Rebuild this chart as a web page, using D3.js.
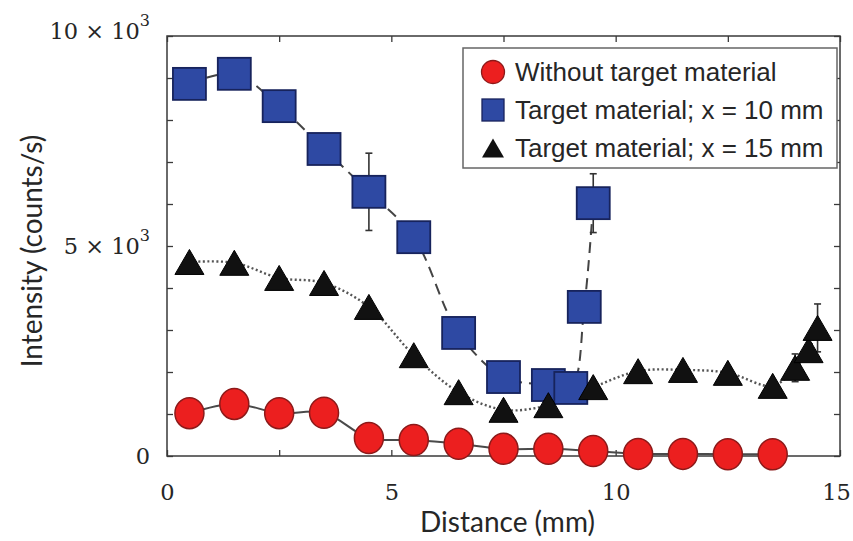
<!DOCTYPE html>
<html>
<head>
<meta charset="utf-8">
<script src="https://cdn.jsdelivr.net/npm/d3@7"></script>
<style>
  html, body { margin: 0; padding: 0; background: #fff; }
  svg { display: block; }
</style>
</head>
<body>
<svg id="chart" width="853" height="541"></svg>
<script>
// ---------------- data ----------------
const redX   = [0.5,1.5,2.5,3.5,4.5,5.5,6.5,7.5,8.5,9.5,10.5,11.5,12.5,13.5];
const redY   = [1020,1240,1020,1030,430,380,290,170,170,120,50,50,40,40];

const blueX   = [0.5,1.5,2.5,3.5,4.5,5.5,6.5,7.5,8.5,9.0,9.3,9.5];
const blueY   = [8860,9100,8330,7310,6290,5210,2930,1880,1690,1620,3550,6020];
const blueErr = [0,0,0,0,920,0,0,0,0,0,0,700];

const triX   = [0.5,1.5,2.5,3.5,4.5,5.5,6.5,7.5,8.5,9.5,10.5,11.5,12.5,13.5,14.0,14.3,14.5];
const triY   = [4620,4600,4240,4120,3550,2400,1520,1100,1210,1640,2020,2050,1980,1670,2100,2520,3050];
const triErr = [0,0,0,0,0,0,0,0,0,0,0,0,0,0,330,0,570];

const xMajorTicks = [0,5,10,15];
const yMajorTicks = [0,5000,10000];
const yTickLabels = ["0","5 \u00d7 10","10 \u00d7 10"];
const seriesNames = ["Without target material","Target material; x = 10 mm","Target material; x = 15 mm"];
const xTitle = "Distance (mm)";
const yTitle = "Intensity (counts/s)";

// ---------------- layout ----------------
const svg = d3.select("#chart");
const L = 167, R = 840, T = 36, B = 456;
const x = d3.scaleLinear().domain([0,15]).range([L,R]);
const y = d3.scaleLinear().domain([0,10000]).range([B,T]);

const frameColor = "#3a3a3a";
const textColor = "#262626";

const xTickVals = d3.range(0, 15.001, 2.5);
const yTickVals = d3.range(0, 10001, 1000);

function styleAxis(g){
  g.select(".domain").remove();
  g.selectAll(".tick line").attr("stroke", frameColor).attr("stroke-width", 1.3);
}

svg.append("g").attr("transform",`translate(0,${B})`)
  .call(d3.axisBottom(x).tickValues(xTickVals).tickSizeInner(-6).tickSizeOuter(0)
    .tickFormat(d => xMajorTicks.includes(d) ? d : ""))
  .call(styleAxis)
  .call(g => g.selectAll(".tick text")
     .attr("font-family","'DejaVu Serif', serif").attr("font-size",22.5)
     .attr("fill",textColor).attr("y",36).attr("dy","0.36em")
     .attr("dx", d => d === 15 ? -4 : 0));

svg.append("g").attr("transform",`translate(0,${T})`)
  .call(d3.axisTop(x).tickValues(xTickVals).tickSizeInner(-6).tickSizeOuter(0).tickFormat(""))
  .call(styleAxis);

svg.append("g").attr("transform",`translate(${R},0)`)
  .call(d3.axisRight(y).tickValues(yTickVals).tickSizeInner(-6).tickSizeOuter(0).tickFormat(""))
  .call(styleAxis);

svg.append("g").attr("transform",`translate(${L},0)`)
  .call(d3.axisLeft(y).tickValues(yTickVals).tickSizeInner(-6).tickSizeOuter(0).tickFormat(""))
  .call(styleAxis);

// y major labels with superscripts
const yLab = svg.append("g")
  .attr("font-family","'DejaVu Serif', serif").attr("font-size",22.5).attr("fill",textColor)
  .attr("text-anchor","end");
yMajorTicks.forEach((v,i) => {
  const t = yLab.append("text").attr("x", L - 17)
    .attr("y", y(v) + (v === 10000 ? -5 : 0)).attr("dy","0.36em");
  t.append("tspan").text(yTickLabels[i]);
  if (v !== 0) {
    t.append("tspan").attr("font-size",16).attr("dy","-0.8em").text("3");
  }
});

// frame
svg.append("rect").attr("x",L).attr("y",T).attr("width",R-L).attr("height",B-T)
  .attr("fill","none").attr("stroke",frameColor).attr("stroke-width",1.5);

// axis titles
svg.append("text").attr("x",(L+R)/2 + 4).attr("y",532)
  .attr("text-anchor","middle").attr("font-family","Lato, sans-serif")
  .attr("font-size",28).attr("fill",textColor).text(xTitle);
svg.append("text").attr("transform",`translate(42,${(T+B)/2 + 5}) rotate(-90)`)
  .attr("text-anchor","middle").attr("font-family","Lato, sans-serif")
  .attr("font-size",28).attr("fill",textColor).text(yTitle);

// ---------------- lines ----------------
const lineGen = d3.line().x(d => x(d[0])).y(d => y(d[1])).curve(d3.curveCatmullRom.alpha(0.5));
const redPts  = redX.map((v,i) => [v, redY[i]]);
const bluePts = blueX.map((v,i) => [v, blueY[i]]);
const triPts  = triX.map((v,i) => [v, triY[i]]);

const plot = svg.append("g");
plot.append("path").datum(redPts).attr("d", lineGen)
  .attr("fill","none").attr("stroke","#4a4a4a").attr("stroke-width",2);
plot.append("path").datum(bluePts).attr("d", lineGen)
  .attr("fill","none").attr("stroke","#444").attr("stroke-width",2).attr("stroke-dasharray","11,7");
plot.append("path").datum(triPts).attr("d", lineGen)
  .attr("fill","none").attr("stroke","#555").attr("stroke-width",2.4).attr("stroke-dasharray","2,2.5");

// error bars
function errBars(xs, ys, es){
  xs.forEach((xv,i) => {
    const e = es[i]; if (!e) return;
    const g = plot.append("g").attr("stroke","#333").attr("stroke-width",1.6);
    g.append("line").attr("x1",x(xv)).attr("x2",x(xv)).attr("y1",y(ys[i]-e)).attr("y2",y(ys[i]+e));
    [ys[i]-e, ys[i]+e].forEach(v => g.append("line")
      .attr("x1",x(xv)-3.5).attr("x2",x(xv)+3.5).attr("y1",y(v)).attr("y2",y(v)));
  });
}
errBars(blueX, blueY, blueErr);
errBars(triX, triY, triErr);

// ---------------- markers ----------------
const redFill = "#ec1f1f", redStroke = "#8c1a1a";
const blueFill = "#2e49a3", blueStroke = "#17235c";
const triFill = "#111";

plot.append("g").selectAll("ellipse").data(redPts).join("ellipse")
  .attr("cx", d => x(d[0])).attr("cy", d => y(d[1])).attr("rx",14.5).attr("ry",15.5)
  .attr("fill",redFill).attr("stroke",redStroke).attr("stroke-width",1.5);

plot.append("g").selectAll("rect").data(bluePts).join("rect")
  .attr("x", d => x(d[0]) - 16.5).attr("y", d => y(d[1]) - 16)
  .attr("width",33).attr("height",32)
  .attr("fill",blueFill).attr("stroke",blueStroke).attr("stroke-width",1.8);

const triPath = (cx, cy, w, h) => `M${cx},${cy-h/2}L${cx+w/2},${cy+h/2}L${cx-w/2},${cy+h/2}Z`;
plot.append("g").selectAll("path").data(triPts).join("path")
  .attr("d", d => triPath(x(d[0]), y(d[1]), 29, 25))
  .attr("fill",triFill).attr("stroke","#000").attr("stroke-width",1);

// ---------------- legend ----------------
const lg = svg.append("g");
const lgX = 463, lgY = 48, lgW = 374, lgH = 120;
lg.append("rect").attr("x",lgX).attr("y",lgY).attr("width",lgW).attr("height",lgH)
  .attr("fill","#fff").attr("stroke","#666").attr("stroke-width",1.5);
const rowY = i => lgY + 24 + i*38;
const mx = lgX + 30;
lg.append("circle").attr("cx",mx).attr("cy",rowY(0)).attr("r",11.5)
  .attr("fill",redFill).attr("stroke",redStroke).attr("stroke-width",1.3);
lg.append("rect").attr("x",mx-11).attr("y",rowY(1)-11).attr("width",22).attr("height",22)
  .attr("fill",blueFill).attr("stroke",blueStroke).attr("stroke-width",1.3);
lg.append("path").attr("d",triPath(mx, rowY(2), 22, 19)).attr("fill",triFill);
seriesNames.forEach((s,i) => {
  lg.append("text").attr("x",lgX+52).attr("y",rowY(i)).attr("dy","0.36em")
    .attr("font-family","'Liberation Sans', Arial, sans-serif").attr("font-size",26)
    .attr("fill",textColor).text(s);
});
</script>
</body>
</html>
